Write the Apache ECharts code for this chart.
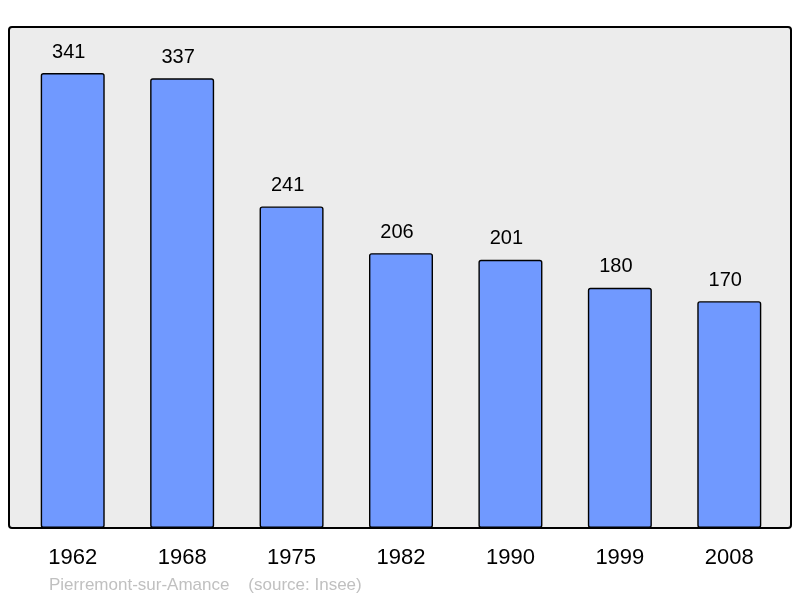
<!DOCTYPE html>
<html><head><meta charset="utf-8">
<script src="https://cdn.jsdelivr.net/npm/echarts@6/dist/echarts.min.js"></script>
<style>html,body{margin:0;padding:0;background:#fff}#c{width:800px;height:598px}</style>
</head><body><div id="c"></div>
<script>
const years = ['1962','1968','1975','1982','1990','1999','2008'];
const population = [341,337,241,206,201,180,170];
const sourceText = 'Pierremont-sur-Amance    (source: Insee)';

const chart = echarts.init(document.getElementById('c'), null, {renderer:'canvas'});
chart.setOption({
  animation:false,
  backgroundColor:'#ffffff',
  graphic:[
    {type:'rect', z:-10, shape:{x:9,y:27,width:782,height:501,r:3},
     style:{fill:'#ececec', stroke:'#000', lineWidth:2}},
    {type:'text', left:49, top:577, style:{text:sourceText, fill:'#c0c0c0', font:'17px "Liberation Sans", Arial, sans-serif'}}
  ],
  grid:{left:18, right:16, top:27, bottom:70, containLabel:false},
  xAxis:{type:'category', data:years,
    axisLine:{show:false}, axisTick:{show:false},
    axisLabel:{color:'#000', fontSize:22, margin:19, fontFamily:'"Liberation Sans", Arial, sans-serif'}},
  yAxis:{type:'value', min:0, max:375.5, show:false, splitLine:{show:false}},
  series:[{type:'bar', data:population, barWidth:64,
    itemStyle:{color:'#7099ff', borderColor:'#000', borderWidth:1.4, borderRadius:2},
    label:{show:true, position:'top', distance:11, offset:[-4,0], color:'#000', fontSize:20,
      fontFamily:'"Liberation Sans", Arial, sans-serif'}}]
});
</script></body></html>
